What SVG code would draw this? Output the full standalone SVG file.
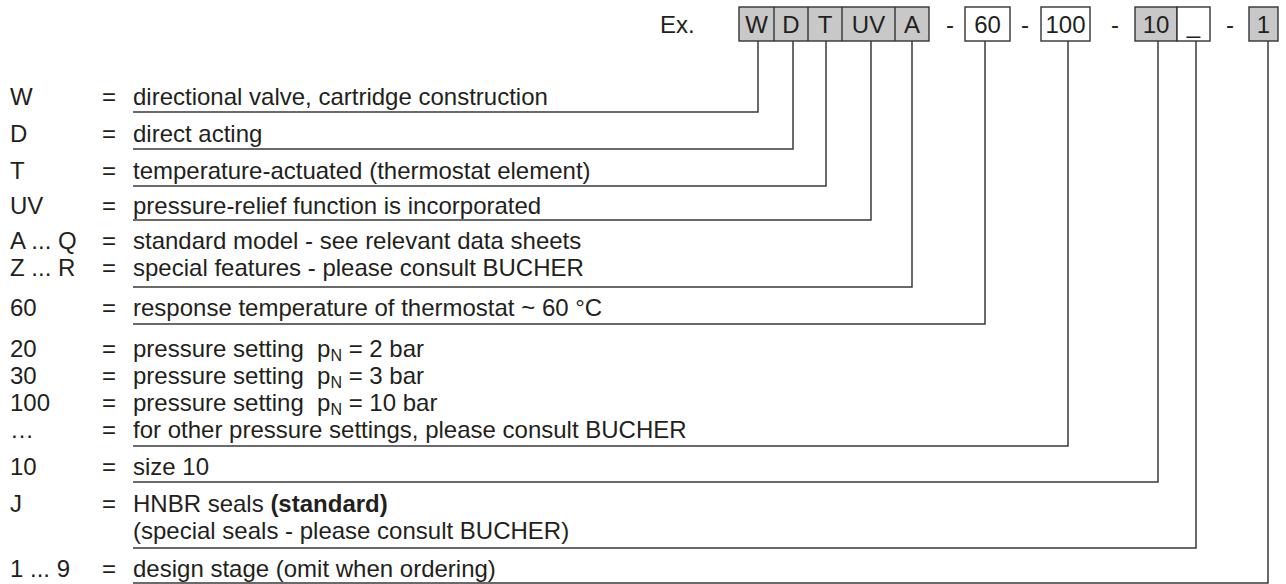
<svg xmlns="http://www.w3.org/2000/svg" width="1286" height="584" viewBox="0 0 1286 584">
<style>
text{font-family:"Liberation Sans",Arial,sans-serif;font-size:24px;fill:#231f20}
.c{text-anchor:middle}
.b{font-weight:bold}
.sub{font-size:16px}
.box{stroke:#333;stroke-width:1.4}
.g{fill:#c8c8c8}
.w{fill:#fff}
.conn{fill:none;stroke:#3a3a3a;stroke-width:1.5}
</style>
<rect width="1286" height="584" fill="#fff"/>
<g id="code">
<text x="660" y="33">Ex.</text>
<rect class="box g" x="739" y="7" width="190" height="34"/>
<line class="box" x1="774" y1="7" x2="774" y2="41"/>
<line class="box" x1="808" y1="7" x2="808" y2="41"/>
<line class="box" x1="842" y1="7" x2="842" y2="41"/>
<line class="box" x1="895" y1="7" x2="895" y2="41"/>
<text class="c" x="756.5" y="33">W</text>
<text class="c" x="791" y="33">D</text>
<text class="c" x="825" y="33">T</text>
<text class="c" x="868.5" y="33">UV</text>
<text class="c" x="912" y="33">A</text>
<text class="c" x="950" y="33">-</text>
<rect class="box w" x="965" y="7" width="45" height="34"/>
<text class="c" x="987.5" y="33">60</text>
<text class="c" x="1025" y="33">-</text>
<rect class="box w" x="1041" y="7" width="49" height="34"/>
<text class="c" x="1065.5" y="33">100</text>
<text class="c" x="1115" y="33">-</text>
<rect class="box g" x="1135" y="7" width="42" height="34"/>
<rect class="box w" x="1177" y="7" width="33" height="34"/>
<text class="c" x="1156" y="33">10</text>
<text class="c" x="1193.5" y="33">_</text>
<text class="c" x="1230" y="33">-</text>
<rect class="box g" x="1249" y="7" width="29" height="34"/>
<text class="c" x="1263.5" y="33">1</text>
</g>
<g id="connectors">
<path class="conn" d="M758 41V112H133"/>
<path class="conn" d="M793 41V149H133"/>
<path class="conn" d="M826 41V186H133"/>
<path class="conn" d="M871 41V220H133"/>
<path class="conn" d="M912 41V287H133"/>
<path class="conn" d="M985 41V324H133"/>
<path class="conn" d="M1068 41V446H133"/>
<path class="conn" d="M1158 41V482H133"/>
<path class="conn" d="M1196 41V548H133"/>
<path class="conn" d="M1268 41V583H133"/>
</g>
<g id="row-W"><text x="10" y="105">W</text><text x="102" y="105">=</text><text x="133" y="105">directional valve, cartridge construction</text></g>
<g id="row-D"><text x="10" y="142">D</text><text x="102" y="142">=</text><text x="133" y="142">direct acting</text></g>
<g id="row-T"><text x="10" y="179">T</text><text x="102" y="179">=</text><text x="133" y="179">temperature-actuated (thermostat element)</text></g>
<g id="row-UV"><text x="10" y="214">UV</text><text x="102" y="214">=</text><text x="133" y="214">pressure-relief function is incorporated</text></g>
<g id="row-AQ"><text x="10" y="249">A ... Q</text><text x="102" y="249">=</text><text x="133" y="249">standard model - see relevant data sheets</text></g>
<g id="row-ZR"><text x="10" y="276">Z ... R</text><text x="102" y="276">=</text><text x="133" y="276">special features - please consult BUCHER</text></g>
<g id="row-60"><text x="10" y="316">60</text><text x="102" y="316">=</text><text x="133" y="316">response temperature of thermostat ~ 60 °C</text></g>
<g id="row-20"><text x="10" y="357">20</text><text x="102" y="357">=</text><text x="133" y="357" xml:space="preserve">pressure setting  p<tspan class="sub" dy="4">N</tspan><tspan dy="-4"> = 2 bar</tspan></text></g>
<g id="row-30"><text x="10" y="384">30</text><text x="102" y="384">=</text><text x="133" y="384" xml:space="preserve">pressure setting  p<tspan class="sub" dy="4">N</tspan><tspan dy="-4"> = 3 bar</tspan></text></g>
<g id="row-100"><text x="10" y="411">100</text><text x="102" y="411">=</text><text x="133" y="411" xml:space="preserve">pressure setting  p<tspan class="sub" dy="4">N</tspan><tspan dy="-4"> = 10 bar</tspan></text></g>
<g id="row-other"><text x="10" y="438">…</text><text x="102" y="438">=</text><text x="133" y="438">for other pressure settings, please consult BUCHER</text></g>
<g id="row-10"><text x="10" y="475">10</text><text x="102" y="475">=</text><text x="133" y="475">size 10</text></g>
<g id="row-J"><text x="10" y="512">J</text><text x="102" y="512">=</text><text x="133" y="512">HNBR seals <tspan class="b">(standard)</tspan></text><text x="133" y="539">(special seals - please consult BUCHER)</text></g>
<g id="row-19"><text x="10" y="577">1 ... 9</text><text x="102" y="577">=</text><text x="133" y="577">design stage (omit when ordering)</text></g>
</svg>
